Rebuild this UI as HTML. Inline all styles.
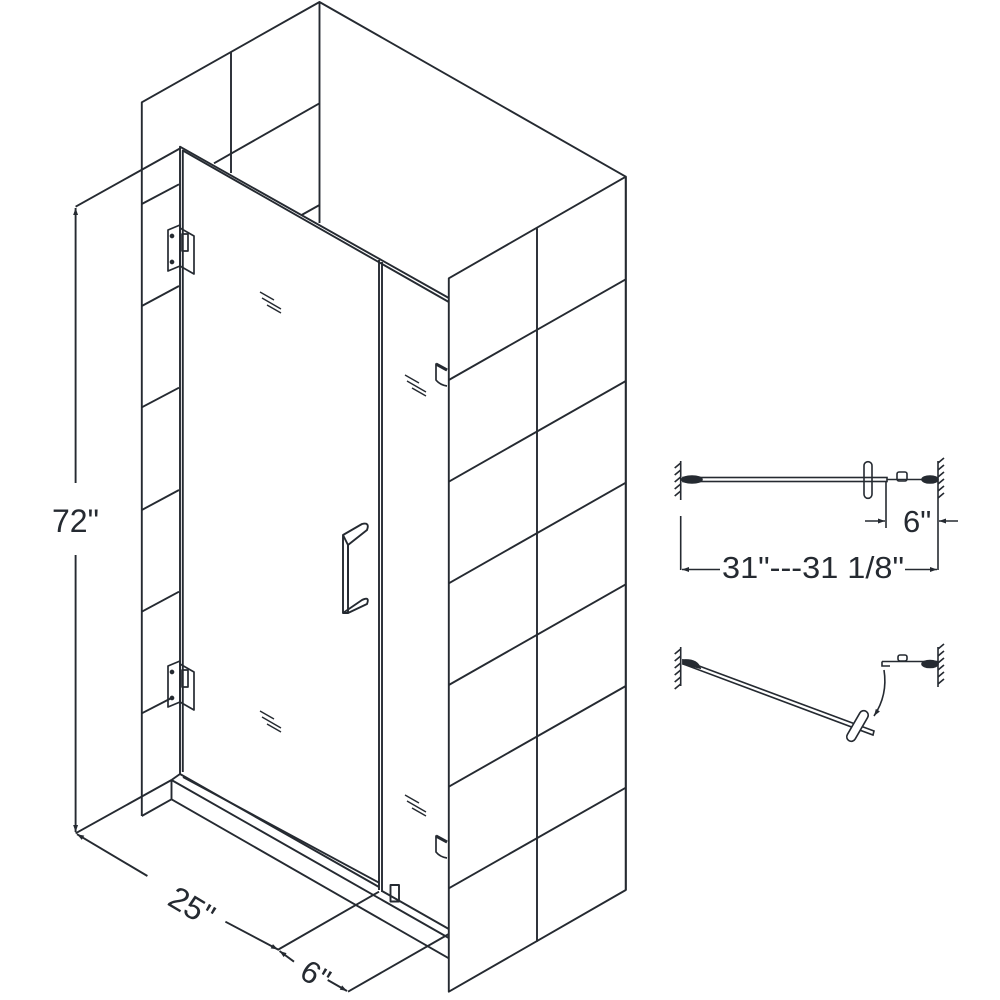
<!DOCTYPE html>
<html><head><meta charset="utf-8"><style>
html,body{margin:0;padding:0;background:#fff}
svg{display:block}
text{font-family:"Liberation Sans",sans-serif;fill:#252a31}
</style></head><body>
<svg width="1000" height="1000" viewBox="0 0 1000 1000" xmlns="http://www.w3.org/2000/svg">
<defs>
<marker id="ar" viewBox="0 0 10 10" refX="10" refY="5" markerWidth="9" markerHeight="7" orient="auto-start-reverse" markerUnits="userSpaceOnUse">
<path d="M0,1.5 L10,5 L0,8.5 z" fill="#252a31"/></marker>
</defs>
<g fill="none" stroke="#252a31" stroke-width="1.9" stroke-linejoin="round">
<!-- back box -->
<polyline points="141.8,816 141.8,102.3 319.5,2 625.8,176.7 625.8,890"/>
<line x1="319.5" y1="2" x2="319.5" y2="223"/>
<line x1="231" y1="52" x2="231" y2="173"/>
<line x1="319.5" y1="103.3" x2="214" y2="163.3"/>
<line x1="319.5" y1="205" x2="301.6" y2="215"/>
<!-- left wall tiles -->
<line x1="141.8" y1="204" x2="179" y2="184.3"/>
<line x1="141.8" y1="306" x2="179" y2="286"/>
<line x1="141.8" y1="407.3" x2="179" y2="387.7"/>
<line x1="141.8" y1="510" x2="179" y2="490"/>
<line x1="141.8" y1="611.7" x2="179" y2="591.7"/>
<line x1="141.8" y1="713.3" x2="171.5" y2="698"/>
<line x1="141.8" y1="816" x2="171.5" y2="799.3"/>
<!-- right front wall -->
<polygon points="448.8,278.3 625.8,176.7 625.8,890 448.8,991.7"/>
<line x1="537" y1="228.3" x2="537" y2="941.7"/>
<line x1="448.8" y1="380" x2="625.8" y2="279.3"/>
<line x1="448.8" y1="481.7" x2="625.8" y2="381"/>
<line x1="448.8" y1="583.3" x2="625.8" y2="482.7"/>
<line x1="448.8" y1="685" x2="625.8" y2="584.3"/>
<line x1="448.8" y1="786.7" x2="625.8" y2="686"/>
<line x1="448.8" y1="888.3" x2="625.8" y2="787.7"/>
<!-- door -->
<polyline points="180,774 180,146.7 448.8,298"/>
<polyline points="182.8,772 182.8,150.5 448.8,302"/>
<line x1="379" y1="260" x2="379" y2="890"/>
<line x1="382" y1="262" x2="382" y2="892"/>
<!-- base / threshold -->
<line x1="75.6" y1="833.3" x2="171.5" y2="780"/>
<line x1="171.5" y1="780" x2="171.5" y2="799.3"/>
<line x1="171.5" y1="780" x2="180" y2="774"/>
<line x1="171.5" y1="799.3" x2="448.8" y2="958.3"/>
<line x1="171.5" y1="780" x2="448.8" y2="938"/>
<line x1="180" y1="774" x2="379" y2="887"/>
<line x1="183" y1="777" x2="379" y2="882.7"/>
<line x1="382" y1="891" x2="448.8" y2="929"/>
<rect x="390.5" y="885" width="8.5" height="16.5"/>
<!-- dimension 72 -->
<line x1="75.6" y1="206.7" x2="180.8" y2="148"/>
<line x1="75.6" y1="483" x2="75.6" y2="208" marker-end="url(#ar)"/>
<line x1="75.6" y1="555" x2="75.6" y2="832" marker-end="url(#ar)"/>
<!-- dimension 25 -->
<line x1="147.4" y1="876" x2="77" y2="834.2" marker-end="url(#ar)"/>
<line x1="225.4" y1="921.7" x2="278" y2="949.5" marker-end="url(#ar)"/>
<line x1="277.5" y1="950" x2="379" y2="891.7"/>
<!-- dimension 6 -->
<line x1="294" y1="961.7" x2="279.5" y2="951" marker-end="url(#ar)"/>
<line x1="327.7" y1="980" x2="347" y2="991" marker-end="url(#ar)"/>
<line x1="348" y1="991.7" x2="448.8" y2="934"/>
<!-- hinges -->
<g stroke-width="1.7">
<polygon points="168,230 180,225 180,266 168,271"/>
<polygon points="180,228 194,236 194,274 180,266"/>
<rect x="182" y="234" width="6" height="17"/>
<circle cx="172" cy="236" r="1.5" fill="#252a31"/>
<circle cx="172" cy="262" r="1.5" fill="#252a31"/>
<polygon points="168,666 180,661 180,702 168,707"/>
<polygon points="180,664 194,672 194,710 180,702"/>
<rect x="182" y="670" width="6" height="17"/>
<circle cx="172" cy="672" r="1.5" fill="#252a31"/>
<circle cx="172" cy="698" r="1.5" fill="#252a31"/>
</g>
<!-- handle -->
<path d="M343,535 L343,613 L348,613 L348,545 Z"/>
<path d="M343,535 L362,524 Q370,522 367,530 L348,545"/>
<path d="M343,613 L362,600 Q370,596 367,604 L348,613"/>
<line x1="348" y1="545" x2="348" y2="600"/>
<!-- clips on fixed panel -->
<path d="M447,370 L436,364 L436,380 Q440,385 447,386" stroke-width="1.7"/>
<line x1="436" y1="364" x2="447" y2="370" stroke-width="3"/>
<path d="M447,842 L436,836 L436,852 Q440,857 447,858" stroke-width="1.7"/>
<line x1="436" y1="836" x2="447" y2="842" stroke-width="3"/>
<!-- glass marks -->
<g stroke-width="1.4">
<path d="M260,292 L274,300 M262,298 L281,309 M267,305 L281,313"/>
<path d="M405,375 L419,383 M407,381 L426,392 M412,388 L426,396"/>
<path d="M260,711 L274,719 M262,717 L281,728 M267,724 L281,732"/>
<path d="M405,795 L419,803 M407,801 L426,812 M412,808 L426,816"/>
</g>
</g>
<!-- plan views -->
<g fill="none" stroke="#252a31" stroke-width="1.6">
<line x1="680.7" y1="461" x2="680.7" y2="500"/>
<path d="M680.7,463 l-6,5 M680.7,470 l-6,5 M680.7,477 l-6,5 M680.7,484 l-6,5 M680.7,491 l-6,5"/>
<line x1="938" y1="461" x2="938" y2="500"/>
<path d="M938,463 l6,-5 M938,470 l6,-5 M938,477 l6,-5 M938,484 l6,-5 M938,491 l6,-5 M938,498 l6,-5"/>
<rect x="683" y="477.5" width="204" height="4"/>
<ellipse cx="692" cy="479.5" rx="10" ry="3.5" fill="#252a31"/>
<rect x="864" y="461.7" width="8" height="36.6" rx="4"/>
<line x1="887" y1="479.5" x2="938" y2="479.5"/>
<rect x="897" y="472" width="10" height="9" rx="2"/>
<ellipse cx="930" cy="479.5" rx="8" ry="3.5" fill="#252a31"/>
<line x1="886" y1="481" x2="886" y2="528"/>
<line x1="865" y1="521" x2="885" y2="521" marker-end="url(#ar)"/>
<line x1="958" y1="521" x2="939" y2="521" marker-end="url(#ar)"/>
<line x1="938" y1="500" x2="938" y2="570"/>
<line x1="680.7" y1="516" x2="680.7" y2="570"/>
<line x1="720" y1="569.5" x2="682" y2="569.5" marker-end="url(#ar)"/>
<line x1="905" y1="569.5" x2="937" y2="569.5" marker-end="url(#ar)"/>
<!-- bottom plan -->
<line x1="680.7" y1="647" x2="680.7" y2="686"/>
<path d="M680.7,649 l-6,5 M680.7,656 l-6,5 M680.7,663 l-6,5 M680.7,670 l-6,5 M680.7,677 l-6,5 M680.7,684 l-6,5"/>
<line x1="938" y1="647" x2="938" y2="687"/>
<path d="M938,649 l6,-5 M938,656 l6,-5 M938,663 l6,-5 M938,670 l6,-5 M938,677 l6,-5 M938,684 l6,-5"/>
<polygon points="683,660 874,731 873,735 683,664"/>
<path d="M683,660 Q697,659 700,668 L683,664 Z" fill="#252a31"/>
<rect x="853" y="709" width="9" height="34" rx="4.5" transform="rotate(30 857.5 726)" fill="#fff"/>
<line x1="882" y1="661.5" x2="938" y2="661.5"/>
<path d="M882,661.5 L882,666 L890,666"/>
<rect x="898" y="655" width="9" height="6" rx="2"/>
<ellipse cx="930" cy="664" rx="8" ry="3.5" fill="#252a31"/>
<path d="M884,670 Q888,695 874,716" marker-end="url(#ar)"/>
</g>
<text x="52" y="532" font-size="32">72"</text>
<text x="0" y="0" font-size="32" transform="translate(166,904) rotate(30.7)">25"</text>
<text x="0" y="0" font-size="31" transform="translate(298,977) rotate(30.7)">6"</text>
<text x="903" y="532" font-size="31">6"</text>
<text x="722" y="578" font-size="31" textLength="182" lengthAdjust="spacingAndGlyphs">31"---31 1/8"</text>
</svg>
</body></html>
